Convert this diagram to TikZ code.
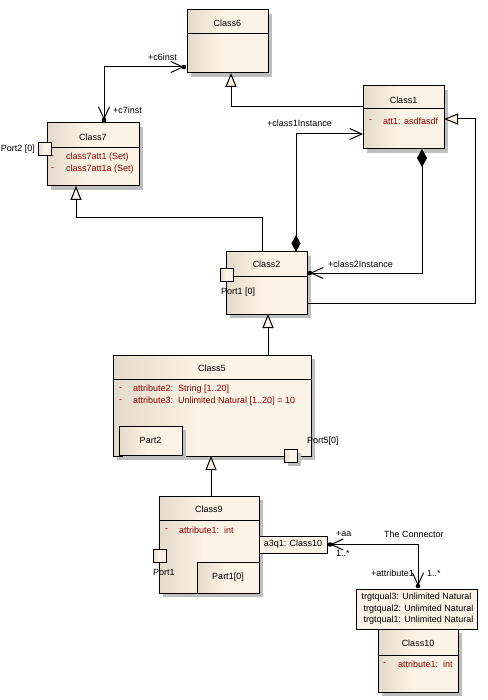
\documentclass[tikz,border=0pt]{standalone}
\usepackage{fontspec}
\setmainfont{Liberation Sans}
\usetikzlibrary{arrows.meta,shadows,calc}
\definecolor{boxL}{RGB}{228,218,202}
\definecolor{boxR}{RGB}{251,243,229}
\definecolor{shad}{RGB}{190,190,190}
\definecolor{attr}{RGB}{140,0,0}
\pgfdeclarehorizontalshading{umlshade}{100bp}{color(0bp)=(boxL); color(25bp)=(boxL); color(47bp)=(boxR); color(100bp)=(boxR)}
\tikzset{
  x=1pt, y=-1pt,
  umlbox/.style={draw, line width=1pt, shading=umlshade, anchor=north west, inner sep=0pt, outer sep=0pt,
    drop shadow={shadow xshift=4pt, shadow yshift=-4pt, fill=shad, opacity=1}},
  flatbox/.style={draw, line width=1pt, fill=boxR, anchor=north west, inner sep=0pt, outer sep=0pt},
  portbox/.style={draw, line width=1pt, shading=umlshade, anchor=north west, inner sep=0pt, outer sep=0pt, minimum width=13pt, minimum height=13pt},
  div/.style={line width=1pt},
  txt/.style={font=\fontsize{9}{10}\selectfont, inner sep=0pt},
  lbl/.style={txt, anchor=west},
  atr/.style={txt, anchor=west, text=attr},
  gen/.style={line width=1pt, -{Triangle[length=14pt,width=11pt,fill=boxR]}},
  nav/.style={line width=1pt},
  dot/.style={fill=black},
}
\newcommand{\barbtip}{Straight Barb[length=12pt,width=11pt]}
\begin{document}
\begin{tikzpicture}
\useasboundingbox[fill=white] (0,0) rectangle (487,700);

% Class6
\node[umlbox, minimum width=81pt, minimum height=63pt] (c6) at (187,10) {};
\draw[div] ([yshift=-24pt]c6.north west) -- ([yshift=-24pt]c6.north east);
\node[txt] (c6t) at ([yshift=-13pt]c6.north) {Class6};

% Class7
\node[umlbox, minimum width=92pt, minimum height=63pt] (c7) at (47,123) {};
\draw[div] ([yshift=-25pt]c7.north west) -- ([yshift=-25pt]c7.north east);
\node[txt] (c7t) at ([yshift=-14pt]c7.north) {Class7};
\node[atr] (c7d1) at ([xshift=4pt,yshift=-34pt]c7.north west) {-};
\node[atr] (c7a1) at ([xshift=19pt,yshift=-34pt]c7.north west) {class7att1 (Set)};
\node[atr] (c7d2) at ([xshift=4pt,yshift=-46pt]c7.north west) {-};
\node[atr] (c7a2) at ([xshift=19pt,yshift=-46pt]c7.north west) {class7att1a (Set)};
\node[portbox] (p2) at (38,143) {};
\node[txt, anchor=east] (p2l) at (35,149) {Port2 [0]};

% Class1
\node[umlbox, minimum width=81pt, minimum height=63pt] (c1) at (363,86) {};
\draw[div] ([yshift=-23pt]c1.north west) -- ([yshift=-23pt]c1.north east);
\node[txt] (c1t) at ([yshift=-14pt]c1.north) {Class1};
\node[atr] (c1d) at ([xshift=6pt,yshift=-35pt]c1.north west) {-};
\node[atr] (c1a) at ([xshift=20pt,yshift=-35pt]c1.north west) {att1: asdfasdf};

% Class2
\node[umlbox, minimum width=81pt, minimum height=62pt] (c2) at (226,252) {};
\draw[div] ([yshift=-24pt]c2.north west) -- ([yshift=-24pt]c2.north east);
\node[txt] (c2t) at ([yshift=-12pt]c2.north) {Class2};
\node[portbox] (p1) at (220,268) {};
\node[lbl] (p1l) at (221,292) {Port1 [0]};

% Class5
\node[umlbox, minimum width=198pt, minimum height=101pt] (c5) at (113,355) {};
\draw[div] ([yshift=-24pt]c5.north west) -- ([yshift=-24pt]c5.north east);
\node[txt] (c5t) at ([yshift=-13pt]c5.north) {Class5};
\node[atr] (c5d1) at ([xshift=6pt,yshift=-34pt]c5.north west) {-};
\node[atr] (c5a1) at ([xshift=20pt,yshift=-34pt]c5.north west) {attribute2:\ \ String [1..20]};
\node[atr] (c5d2) at ([xshift=6pt,yshift=-46pt]c5.north west) {-};
\node[atr] (c5a2) at ([xshift=20pt,yshift=-46pt]c5.north west) {attribute3:\ \ Unlimited Natural [1..20] = 10};
\node[umlbox, minimum width=63pt, minimum height=29pt] (pt2) at (119,426) {};
\node[txt] (pt2t) at (pt2.center) {Part2};
\node[portbox, drop shadow={shadow xshift=4pt, shadow yshift=-4pt, fill=shad, opacity=1}] (p5) at (284,449) {};
\node[lbl] (p5l) at (307,441) {Port5[0]};

% Class9
\node[umlbox, minimum width=100pt, minimum height=97pt] (c9) at (159,496) {};
\draw[div] ([yshift=-24pt]c9.north west) -- ([yshift=-24pt]c9.north east);
\node[txt] (c9t) at ([yshift=-13pt]c9.north) {Class9};
\node[atr] (c9d) at ([xshift=6pt,yshift=-34pt]c9.north west) {-};
\node[atr] (c9a) at ([xshift=20pt,yshift=-34pt]c9.north west) {attribute1:\ \ int};
\node[portbox] (p9) at (153,549) {};
\node[lbl] (p9l) at (153,572) {Port1};
\node[umlbox, minimum width=62pt, minimum height=31pt] (pt1) at (197,562) {};
\node[txt] (pt1t) at (pt1.center) {Part1[0]};
\node[flatbox, minimum width=68pt, minimum height=17pt] (qa) at (259,536) {};
\node[txt] (qat) at (qa.center) {a3q1: Class10};

% Class10
\node[umlbox, minimum width=80pt, minimum height=63pt] (c10) at (378,629) {};
\draw[div] ([yshift=-26pt]c10.north west) -- ([yshift=-26pt]c10.north east);
\node[txt] (c10t) at ([yshift=-14pt]c10.north) {Class10};
\node[atr] (c10d) at ([xshift=5pt,yshift=-35pt]c10.north west) {-};
\node[atr] (c10a) at ([xshift=20pt,yshift=-35pt]c10.north west) {attribute1:\ \ int};
\node[flatbox, minimum width=121pt, minimum height=40pt] (q10) at (356,589) {};
\node[txt] (q10a) at ([yshift=-8pt]q10.north) {trgtqual3: Unlimited Natural};
\node[txt] (q10b) at ([yshift=-20pt,xshift=2pt]q10.north) {trgtqual2: Unlimited Natural};
\node[txt] (q10c) at ([yshift=-31pt,xshift=2pt]q10.north) {trgtqual1: Unlimited Natural};

% Generalizations
\draw[gen] ([yshift=-21pt]c1.north west) -| ([xshift=44pt]c6.south west);
\draw[gen] ([xshift=36pt]c2.north west) -- ++(0,-34) -| ([xshift=29pt]c7.south west);
\draw[gen] ([yshift=-51pt]c2.north east) -- ++(168,0) |- ([yshift=-33pt]c1.north east);
\draw[gen] ([xshift=155pt]c5.north west) -- ([xshift=42pt]c2.south west);
\draw[gen] ([xshift=52pt]c9.north west) -- ([xshift=98pt]c5.south west);

% Association c6 - c7
\draw[nav, {\barbtip}-{\barbtip}, shorten <=3pt, shorten >=3pt]
  ([yshift=-57pt]c6.north west) -| ([xshift=57pt]c7.north west);
\fill[dot] ([xshift=-3pt,yshift=-57pt]c6.north west) circle (2.3pt);
\fill[dot] ([xshift=57pt,yshift=3pt]c7.north west) circle (2.3pt);
\node[lbl] (l1) at (148,57) {+c6inst};
\node[lbl] (l2) at (113,110) {+c7inst};

% Composition c2 -> c1
\draw[nav, {Diamond[length=17pt,width=9pt]}-{\barbtip}]
  ([xshift=70pt]c2.north west) |- ([yshift=-48pt]c1.north west);
\node[lbl] (l3) at (267,123) {+class1Instance};

% Composition c1 -> c2
\draw[nav, {Diamond[length=18pt,width=10pt]}-{\barbtip}, shorten >=3pt]
  ([xshift=59pt]c1.south west) |- ([yshift=-21pt]c2.north east);
\fill[dot] ([xshift=3pt,yshift=-21pt]c2.north east) circle (2.3pt);
\node[lbl] (l4) at (328,264) {+class2Instance};

% Qualified association
\draw[nav, {\barbtip}-{\barbtip}, shorten <=3pt, shorten >=3pt]
  (qa.east) -| ([xshift=62pt]q10.north west);
\fill[dot] ([xshift=3pt]qa.east) circle (2.3pt);
\fill[dot] ([xshift=62pt,yshift=3pt]q10.north west) circle (2.3pt);
\node[lbl] (l5) at (336,534) {+aa};
\node[lbl] (l6) at (336,553) {1..*};
\node[lbl] (l7) at (384,534) {The Connector};
\node[txt, anchor=east] (l8) at (414,573) {+attribute1};
\node[lbl] (l9) at (427,573) {1..*};
\end{tikzpicture}
\end{document}
